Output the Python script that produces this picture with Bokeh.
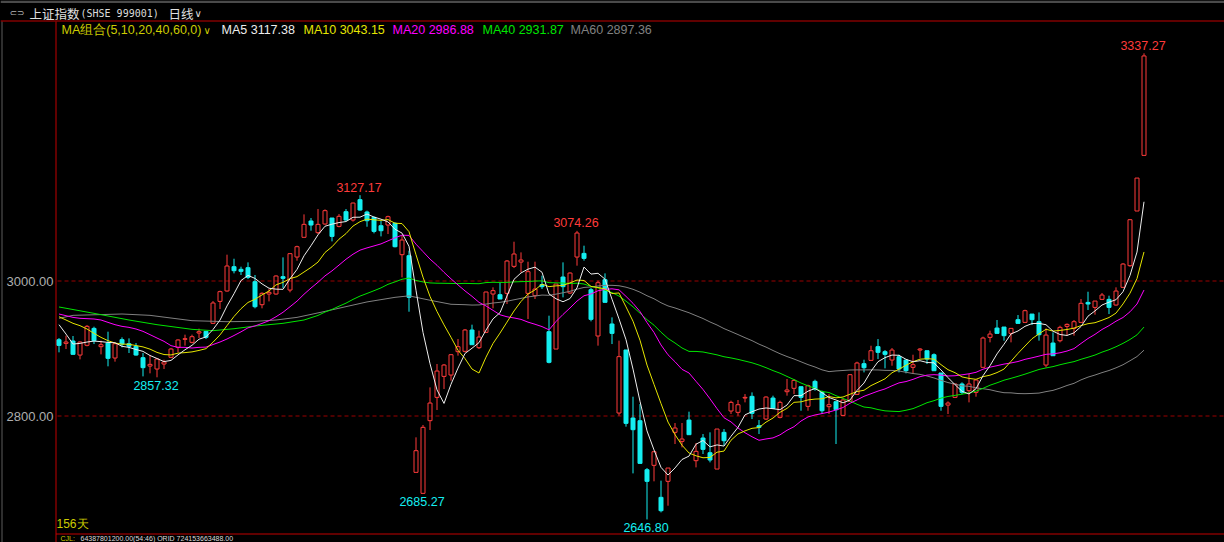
import pandas as pd
from bokeh.plotting import figure
from bokeh.models import Label, Span, BoxAnnotation
from bokeh.embed import file_html
from bokeh.resources import INLINE
from bokeh.core.properties import value

# ---------------- data ----------------
opens = [
    2913.0, 2907.6, 2911.1, 2890.3, 2904.7, 2929.8, 2902.7, 2908.1, 2885.9, 2913.1,
    2907.1, 2903.2, 2886.4, 2874.0, 2869.6, 2877.0, 2886.9, 2901.7, 2913.6, 2909.1,
    2922.9, 2925.4, 2937.3, 2969.8, 2985.2, 3021.2, 3017.3, 3019.7, 2999.0, 2964.9,
    2980.7, 2980.7, 3006.4, 2986.6, 3035.5, 3064.7, 3088.9, 3071.6, 3084.4, 3093.3,
    3080.9, 3102.7, 3090.3, 3120.5, 3102.2, 3094.3, 3081.9, 3082.9, 3085.4, 3039.0,
    3037.5, 2716.5, 2685.4, 2793.1, 2827.6, 2858.7, 2860.7, 2895.3, 2895.8, 2927.4,
    2901.2, 2923.9, 2980.7, 2979.7, 2981.7, 3021.7, 3028.1, 2981.7, 2978.3, 2994.6,
    2924.9, 2899.2, 3005.9, 2982.2, 3035.5, 3040.9, 2987.1, 2918.5, 3001.9, 2936.3,
    2804.4, 2897.8, 2797.0, 2793.0, 2720.4, 2726.9, 2679.5, 2703.2, 2775.8, 2762.4,
    2794.0, 2733.8, 2767.4, 2745.6, 2721.4, 2775.8, 2807.4, 2805.4, 2826.6, 2829.1,
    2785.6, 2795.5, 2826.6, 2798.0, 2836.0, 2841.0, 2843.4, 2814.3, 2851.3, 2835.0,
    2813.8, 2821.2, 2800.9, 2821.7, 2832.0, 2877.5, 2882.4, 2902.7, 2895.3, 2882.9,
    2887.8, 2882.9, 2872.1, 2897.7, 2896.7, 2890.8, 2863.7, 2816.2, 2827.6, 2847.4,
    2837.5, 2835.0, 2872.1, 2916.5, 2930.3, 2931.8, 2922.4, 2942.7, 2938.7, 2951.0,
    2939.7, 2875.5, 2908.1, 2911.5, 2932.8, 2929.8, 2938.7, 2968.3, 2960.9, 2972.8,
    2972.8, 2964.4, 2990.6, 3022.7, 3103.7, 3186.1,
]
highs = [
    2915.5, 2919.0, 2918.5, 2910.6, 2934.8, 2932.3, 2911.6, 2924.9, 2908.0, 2916.5,
    2915.0, 2908.1, 2893.3, 2890.3, 2885.4, 2883.4, 2900.7, 2913.6, 2920.5, 2920.5,
    2929.4, 2925.4, 2970.3, 2985.7, 3039.0, 3033.0, 3021.2, 3027.6, 3008.9, 2983.2,
    2988.6, 3008.4, 3035.0, 3041.4, 3052.3, 3098.7, 3093.3, 3106.6, 3106.1, 3093.3,
    3099.2, 3106.6, 3116.0, 3127.17, 3104.2, 3095.3, 3089.3, 3096.8, 3086.9, 3067.1,
    3044.9, 2768.4, 2786.7, 2842.4, 2877.0, 2877.0, 2891.8, 2914.0, 2928.9, 2935.3,
    2926.4, 2984.0, 2990.6, 2998.0, 3031.1, 3058.2, 3042.4, 3028.6, 3028.6, 3007.9,
    2948.6, 2995.5, 3027.6, 3012.8, 3074.26, 3052.3, 2989.6, 3000.5, 3011.3, 2946.1,
    2911.6, 2897.8, 2828.6, 2817.7, 2722.9, 2747.1, 2704.2, 2722.9, 2789.6, 2789.6,
    2806.4, 2760.0, 2773.3, 2775.8, 2780.7, 2780.7, 2822.7, 2823.7, 2832.5, 2835.0,
    2794.0, 2829.1, 2830.1, 2822.7, 2854.8, 2854.8, 2843.4, 2846.4, 2853.8, 2837.5,
    2832.5, 2821.2, 2825.1, 2862.2, 2880.4, 2883.4, 2904.1, 2914.0, 2897.7, 2900.7,
    2890.8, 2882.9, 2890.8, 2900.7, 2896.7, 2892.8, 2863.7, 2821.7, 2847.4, 2849.8,
    2862.2, 2853.3, 2917.5, 2926.4, 2942.2, 2931.8, 2929.8, 2949.6, 2957.5, 2951.0,
    2953.5, 2929.8, 2923.9, 2933.8, 2937.2, 2942.2, 2973.3, 2984.1, 2970.3, 2982.2,
    2978.2, 2990.6, 3026.6, 3091.8, 3152.5, 3337.27,
]
lows = [
    2894.3, 2899.2, 2891.3, 2883.9, 2903.2, 2906.6, 2891.3, 2873.6, 2880.5, 2901.7,
    2893.3, 2889.4, 2858.7, 2863.2, 2857.32, 2869.6, 2885.9, 2894.3, 2904.2, 2907.6,
    2915.5, 2914.0, 2936.3, 2958.5, 2984.2, 3011.3, 3008.9, 3002.9, 2959.5, 2959.5,
    2969.8, 2979.7, 2989.6, 2983.2, 3030.1, 3064.7, 3074.5, 3069.6, 3083.4, 3058.7,
    3079.5, 3089.3, 3088.0, 3104.2, 3080.4, 3070.6, 3066.1, 3069.6, 3049.8, 3005.4,
    2954.5, 2716.5, 2685.27, 2779.2, 2808.9, 2840.0, 2852.3, 2889.4, 2894.3, 2905.6,
    2899.2, 2923.0, 2959.5, 2973.3, 2965.9, 3019.2, 3012.8, 2943.7, 2973.3, 2988.1,
    2878.0, 2899.2, 2975.8, 2980.7, 3022.7, 3030.1, 2940.2, 2904.2, 2968.4, 2906.6,
    2800.5, 2784.2, 2715.0, 2729.8, 2646.80, 2703.2, 2657.2, 2667.1, 2758.5, 2753.5,
    2772.3, 2723.9, 2743.7, 2731.3, 2721.4, 2756.0, 2802.9, 2800.4, 2820.2, 2795.5,
    2773.3, 2794.0, 2810.3, 2796.5, 2830.1, 2832.5, 2807.8, 2807.8, 2837.5, 2802.9,
    2802.9, 2758.5, 2800.0, 2821.7, 2831.1, 2864.6, 2882.4, 2884.4, 2870.6, 2874.5,
    2864.6, 2863.2, 2862.2, 2885.4, 2877.0, 2867.1, 2807.8, 2802.9, 2826.6, 2832.5,
    2820.2, 2828.6, 2872.1, 2909.1, 2922.4, 2911.6, 2909.1, 2937.2, 2938.7, 2934.8,
    2911.6, 2872.1, 2889.3, 2909.1, 2919.0, 2919.0, 2938.7, 2957.0, 2950.1, 2971.8,
    2951.0, 2963.4, 2989.6, 3021.0, 3103.7, 3186.1,
]
closes = [
    2904.6, 2909.6, 2891.3, 2909.6, 2932.8, 2911.6, 2905.6, 2885.4, 2907.1, 2906.6,
    2903.2, 2890.3, 2871.6, 2876.5, 2884.4, 2880.0, 2899.2, 2912.6, 2914.5, 2917.5,
    2924.9, 2916.5, 2967.4, 2984.2, 3022.2, 3015.3, 3014.3, 3005.4, 2961.9, 2981.7,
    2983.2, 3007.4, 3003.9, 3040.5, 3050.8, 3083.9, 3082.9, 3083.9, 3104.2, 3066.1,
    3095.8, 3090.3, 3115.5, 3105.1, 3089.3, 3073.5, 3074.5, 3095.3, 3050.8, 3060.7,
    2975.8, 2748.6, 2783.2, 2819.2, 2866.6, 2875.5, 2890.8, 2902.7, 2927.4, 2905.6,
    2917.0, 2983.7, 2985.7, 2973.3, 3029.6, 3040.0, 3031.1, 3013.8, 2988.1, 2991.6,
    2879.5, 2995.5, 2991.6, 3011.8, 3071.1, 3033.5, 2943.2, 2997.5, 2968.4, 2922.4,
    2887.9, 2789.1, 2779.7, 2729.8, 2703.2, 2747.1, 2659.7, 2722.9, 2782.2, 2765.9,
    2772.3, 2747.6, 2750.6, 2734.8, 2780.7, 2763.4, 2820.2, 2816.7, 2827.6, 2803.9,
    2783.2, 2828.1, 2811.3, 2820.2, 2838.5, 2852.8, 2827.6, 2844.9, 2840.0, 2807.8,
    2816.7, 2809.3, 2823.7, 2861.2, 2878.5, 2871.5, 2896.7, 2894.3, 2891.3, 2897.7,
    2869.6, 2867.1, 2876.0, 2899.2, 2884.4, 2867.1, 2814.3, 2819.2, 2847.4, 2835.0,
    2847.4, 2853.3, 2915.5, 2921.4, 2922.4, 2919.0, 2929.8, 2937.2, 2956.0, 2942.7,
    2920.4, 2919.9, 2889.3, 2931.3, 2935.7, 2939.7, 2966.9, 2965.9, 2970.3, 2979.2,
    2960.9, 2985.1, 3025.1, 3090.8, 3152.5, 3333.4,
]

# moving-average values read at the left edge (before enough in-window history)
ma5_head_x = [0, 1, 2, 3]
ma5_head_y = [2935.3, 2921.4, 2906.6, 2907.6]
ma10_head_x = [0, 1, 2, 3, 4, 5, 6, 7, 8]
ma10_head_y = [2947.1, 2942.2, 2937.3, 2933.8, 2928.9, 2922.4, 2916.5, 2911.6, 2908.1]
ma20_head_x = list(range(19))
ma20_head_y = [2951.1, 2948.6, 2946.1, 2944.7, 2944.2, 2943.7, 2942.2, 2938.7, 2935.3, 2932.8,
               2931.3, 2928.9, 2925.4, 2920.5, 2915.5, 2910.6, 2904.2, 2901.7, 2901.7]
ma40_head_x = [0, 5, 10, 14, 19, 22, 25, 28, 32, 35, 37, 38]
ma40_head_y = [2961.5, 2952.1, 2942.2, 2935.3, 2928.4, 2926.4, 2929.3, 2933.3, 2937.3, 2942.2,
               2949.0, 2954.0]
ma60_head_x = [0, 2, 9, 13, 19, 24, 28, 31, 34, 36, 38, 41, 44, 48, 50, 53, 56, 58]
ma60_head_y = [2944.7, 2949.1, 2951.1, 2949.1, 2941.2, 2939.7, 2940.2, 2942.2, 2946.1, 2950.5,
               2955.0, 2962.0, 2969.0, 2975.8, 2978.0, 2971.5, 2965.5, 2964.9]

ma_periods = [5, 10, 20, 40, 60]
ma_last_text = ["3117.38", "3043.15", "2986.88", "2931.87", "2897.36"]
ext_high_idx = [43, 74, 155]
ext_low_idx = [14, 52, 84]
y_ticks = [2800, 3000]
days_text = "156天"
title_name = "上证指数"
title_code = "(SHSE 999001)"
title_period = "日线"
ma_group_text = "MA组合(5,10,20,40,60,0)"
footer_key = "CJL:"
footer_text = "64387801200.00(54:46) ORID 724153663488.00"

# ---------------- styling / geometry ----------------
RED = "#FF3B3B"
CYAN = "#14EEF0"
LINE_RED = "#C00000"
GRID_RED = "#9A0000"
MA_COLORS = {5: "#EDEDED", 10: "#E6E600", 20: "#FF00FF", 40: "#00E600", 60: "#808080"}
SANS = "Liberation Sans"

W, H = 1224, 542
X0_PX = 58.5          # pixel centre of the first candle
PXX = 7.0             # pixels per candle
Y3000_PX = 280.5      # pixel row of the 3000 level
PXY = 135.0 / 200.0   # pixels per index point


def X(px):
    return (px - X0_PX) / PXX


def Y(py):
    return 3000 - (py - Y3000_PX) / PXY


p = figure(width=W, height=H, x_range=(X(0), X(W)), y_range=(Y(H), Y(0)),
           output_backend="svg", toolbar_location=None, title=None,
           x_axis_location=None, y_axis_location=None,
           background_fill_color="black", border_fill_color="black",
           outline_line_color=None, min_border=0)
p.xgrid.visible = False
p.ygrid.visible = False

# window chrome: top bar, header rule, left rule, frame rules
p.add_layout(BoxAnnotation(top=Y(0), bottom=Y(2.5), fill_color="#4A4A4A", fill_alpha=1,
                           line_color=None))
p.add_layout(Span(location=Y(20.5), dimension="width", line_color=LINE_RED, line_width=1))
p.segment(x0=[X(1.5)], y0=[Y(21)], x1=[X(1.5)], y1=[Y(H)], line_color="#5C5C5C", line_width=1)
p.segment(x0=[X(55.5)], y0=[Y(21)], x1=[X(55.5)], y1=[Y(H)], line_color=LINE_RED, line_width=1)
p.segment(x0=[X(55.5)], y0=[Y(533.5)], x1=[X(W)], y1=[Y(533.5)], line_color=LINE_RED,
          line_width=1)

# price level guides and their labels
p.segment(x0=[X(57)] * len(y_ticks), y0=y_ticks, x1=[X(W)] * len(y_ticks), y1=y_ticks,
          line_color=GRID_RED, line_width=1, line_dash="4 3")
p.text(x=[X(53)] * len(y_ticks), y=y_ticks, text=["%.2f" % t for t in y_ticks],
       text_color="#AEAEAE", text_font=value(SANS), text_font_size="13px",
       text_align="right", text_baseline="middle")

# ---------------- candles ----------------
N = len(closes)
idx = list(range(N))
inc = [i for i in idx if closes[i] >= opens[i]]
dec = [i for i in idx if closes[i] < opens[i]]
BW = 4.0 / PXX

p.segment(x0=dec, y0=[highs[i] for i in dec], x1=dec, y1=[lows[i] for i in dec],
          line_color=CYAN, line_width=1)
p.vbar(x=dec, top=[opens[i] for i in dec], bottom=[closes[i] for i in dec], width=BW,
       fill_color=CYAN, line_color=CYAN, line_width=1)

up_x = [i for i in inc if highs[i] > closes[i]]
lo_x = [i for i in inc if lows[i] < opens[i]]
p.segment(x0=up_x, y0=[highs[i] for i in up_x], x1=up_x, y1=[closes[i] for i in up_x],
          line_color=RED, line_width=1)
p.segment(x0=lo_x, y0=[opens[i] for i in lo_x], x1=lo_x, y1=[lows[i] for i in lo_x],
          line_color=RED, line_width=1)
p.vbar(x=inc, top=[closes[i] for i in inc], bottom=[opens[i] for i in inc], width=BW,
       fill_color=None, line_color=RED, line_width=1)

# ---------------- moving averages ----------------
s = pd.Series(closes)
heads = {5: (ma5_head_x, ma5_head_y), 10: (ma10_head_x, ma10_head_y),
         20: (ma20_head_x, ma20_head_y), 40: (ma40_head_x, ma40_head_y),
         60: (ma60_head_x, ma60_head_y)}
for n in [60, 40, 20, 10, 5]:
    roll = s.rolling(n).mean()
    hx, hy = heads[n]
    xs = list(hx) + list(range(n - 1, N))
    ys = list(hy) + [float(v) for v in roll.iloc[n - 1:]]
    p.line(xs, ys, line_color=MA_COLORS[n], line_width=1)

# ---------------- extreme value labels ----------------
p.text(x=ext_high_idx, y=[highs[i] for i in ext_high_idx],
       text=["%.2f" % highs[i] for i in ext_high_idx], text_color=RED,
       text_font=value(SANS), text_font_size="12.5px",
       text_align="center", text_baseline="middle", x_offset=-1, y_offset=-8)
p.text(x=ext_low_idx, y=[lows[i] for i in ext_low_idx],
       text=["%.2f" % lows[i] for i in ext_low_idx], text_color=CYAN,
       text_font=value(SANS), text_font_size="12.5px",
       text_align="center", text_baseline="middle", x_offset=-1, y_offset=8)


# ---------------- texts ----------------
def lab(px, py, text, color, font, size, baseline="middle"):
    p.add_layout(Label(x=X(px), y=Y(py), text=text, text_color=color, text_font=font,
                       text_font_size=size, text_baseline=baseline, text_align="left"))


# header
lab(9, 12.5, "⊂⊃", "#B4B4B4", "DejaVu Sans", "9px")
lab(29, 12.5, title_name, "#E0E0E0", "Noto Sans CJK SC", "12.5px")
lab(80, 13, title_code, "#DCDCDC", "DejaVu Sans Mono", "10px")
lab(168, 12.5, title_period, "#E0E0E0", "Noto Sans CJK SC", "12.5px")
lab(194, 12.5, "∨", "#DCDCDC", "DejaVu Sans", "10px")

# legend row
LY = 29.5
lab(61, LY, ma_group_text, "#CCCC00", SANS, "12.5px")
lab(203, LY, "∨", "#CCCC00", "DejaVu Sans", "10px")
legend_x = [221, 303, 392, 482, 570]
for n, t, px in zip(ma_periods, ma_last_text, legend_x):
    lab(px, LY, "MA%d %s" % (n, t), MA_COLORS[n], SANS, "12.5px")

lab(56, 523, days_text, "#CCCC00", SANS, "12px")

# footer status line (shrunk so that it fits below the frame rule)
lab(60, 537.8, footer_key, "#CCCC00", SANS, "7px")
lab(80, 537.8, footer_text, "#DCDCDC", SANS, "7px")

html = file_html(p, INLINE, title="上证指数")
html = html.replace("<head>", "<head><style>html,body{background:#000000;}</style>", 1)
with open("out.html", "w", encoding="utf-8") as f:
    f.write(html)
